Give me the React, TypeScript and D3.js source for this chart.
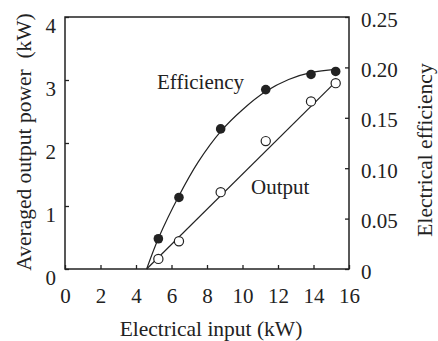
import React, { useEffect, useRef } from 'react';
import * as d3 from 'd3';

// measured points (input kW)
const inputKW = [5.26, 6.42, 8.77, 11.31, 13.86, 15.25];
const efficiency = [0.03, 0.071, 0.139, 0.178, 0.193, 0.196];
const outputKW = [0.16, 0.44, 1.22, 2.03, 2.66, 2.95];

// hand-drawn fit curves
const effFitX = [4.6, 5.3, 6.4, 7.5, 8.8, 10, 11.3, 12.6, 13.9, 15.25];
const effFitY = [0, 0.032, 0.072, 0.106, 0.137, 0.158, 0.176, 0.188, 0.195, 0.198];
const outFitX = [4.6, 15.25];
const outFitY = [0, 2.97];

const xTicks = [0, 2, 4, 6, 8, 10, 12, 14, 16];
const leftTicks = [0, 1, 2, 3, 4];
const rightTicks = [0, 0.05, 0.1, 0.15, 0.2, 0.25];
const rightTickLabels = ['0', '0.05', '0.10', '0.15', '0.20', '0.25'];

const FONT = '"Liberation Serif", "Times New Roman", serif';

const App = () => {
  const ref = useRef<SVGSVGElement>(null);

  useEffect(() => {
    const margin = { top: 17, right: 89, bottom: 72, left: 65 };
    const W = 438;
    const H = 341;
    const width = W - margin.left - margin.right;
    const height = H - margin.top - margin.bottom;

    const root = d3.select(ref.current);
    root.selectAll('*').remove();
    const svg = root.append('g').attr('transform', `translate(${margin.left}, ${margin.top})`);

    const x = d3.scaleLinear().domain([0, 16]).range([0, width]);
    const yL = d3.scaleLinear().domain([0, 4]).range([height, 0]);
    const yR = d3.scaleLinear().domain([0, 0.25]).range([height, 0]);

    const styleAxis = (g: any) => {
      g.select('.domain').remove();
      g.attr('font-family', FONT).attr('font-size', 21);
      g.selectAll('line').attr('stroke', '#222').attr('stroke-width', 1.3);
      g.selectAll('text').attr('fill', '#222');
    };

    // bottom axis
    svg.append('g')
      .attr('transform', `translate(0, ${height})`)
      .call(d3.axisBottom(x).tickValues(xTicks).tickSize(-4).tickFormat(d3.format('d')))
      .call(styleAxis)
      .call((g: any) => g.selectAll('text').attr('y', 34).attr('dy', 0));

    // left axis
    svg.append('g')
      .call(d3.axisLeft(yL).tickValues(leftTicks).tickSize(-4).tickPadding(9).tickFormat(d3.format('d')))
      .call(styleAxis)
      .call((g: any) => g.selectAll('text').attr('dy', 15));

    // right axis
    svg.append('g')
      .attr('transform', `translate(${width}, 0)`)
      .call(d3.axisRight(yR).tickValues(rightTicks).tickSize(-4).tickPadding(12)
        .tickFormat((d: any, i: number) => rightTickLabels[i]))
      .call(styleAxis)
      .call((g: any) => g.selectAll('text').attr('dy', 9));

    // frame
    svg.append('rect')
      .attr('width', width)
      .attr('height', height)
      .attr('fill', 'none')
      .attr('stroke', '#222')
      .attr('stroke-width', 1.5);

    // fit curves
    const effLine = d3.line<number>()
      .x((d, i) => x(effFitX[i]))
      .y(d => yR(d))
      .curve(d3.curveCatmullRom.alpha(0.5));
    svg.append('path')
      .attr('d', effLine(effFitY))
      .attr('fill', 'none')
      .attr('stroke', '#222')
      .attr('stroke-width', 1.2);

    const outLine = d3.line<number>()
      .x((d, i) => x(outFitX[i]))
      .y(d => yL(d));
    svg.append('path')
      .attr('d', outLine(outFitY))
      .attr('fill', 'none')
      .attr('stroke', '#222')
      .attr('stroke-width', 1.2);

    // points
    svg.selectAll('.eff')
      .data(efficiency)
      .enter()
      .append('circle')
      .attr('cx', (d, i) => x(inputKW[i]))
      .attr('cy', d => yR(d))
      .attr('r', 4.8)
      .attr('fill', '#222');

    svg.selectAll('.out')
      .data(outputKW)
      .enter()
      .append('circle')
      .attr('cx', (d, i) => x(inputKW[i]))
      .attr('cy', d => yL(d))
      .attr('r', 4.6)
      .attr('fill', 'white')
      .attr('stroke', '#222')
      .attr('stroke-width', 1.2);

    // curve labels
    root.append('text')
      .attr('x', 157).attr('y', 89)
      .attr('font-family', FONT).attr('font-size', 21).attr('fill', '#222')
      .text('Efficiency');
    root.append('text')
      .attr('x', 251).attr('y', 194)
      .attr('font-family', FONT).attr('font-size', 21).attr('fill', '#222')
      .text('Output');

    // axis titles
    root.append('text')
      .attr('x', margin.left + width / 2 + 4).attr('y', 336)
      .attr('text-anchor', 'middle')
      .attr('font-family', FONT).attr('font-size', 21.5).attr('fill', '#222')
      .text('Electrical input (kW)');
    root.append('text')
      .attr('transform', 'translate(31, 142) rotate(-90)')
      .attr('text-anchor', 'middle')
      .attr('font-family', FONT).attr('font-size', 21.5).attr('fill', '#222')
      .style('white-space', 'pre')
      .text('Averaged output power  (kW)');
    root.append('text')
      .attr('transform', 'translate(432, 150) rotate(-90)')
      .attr('text-anchor', 'middle')
      .attr('font-family', FONT).attr('font-size', 21.5).attr('fill', '#222')
      .text('Electrical efficiency');

    return () => {
      root.selectAll('*').remove();
    };
  }, []);

  return (
    <svg
      ref={ref}
      width={438}
      height={341}
      style={{ position: 'absolute', left: 0, top: 0, background: 'white' }}
    />
  );
};

export default App;
